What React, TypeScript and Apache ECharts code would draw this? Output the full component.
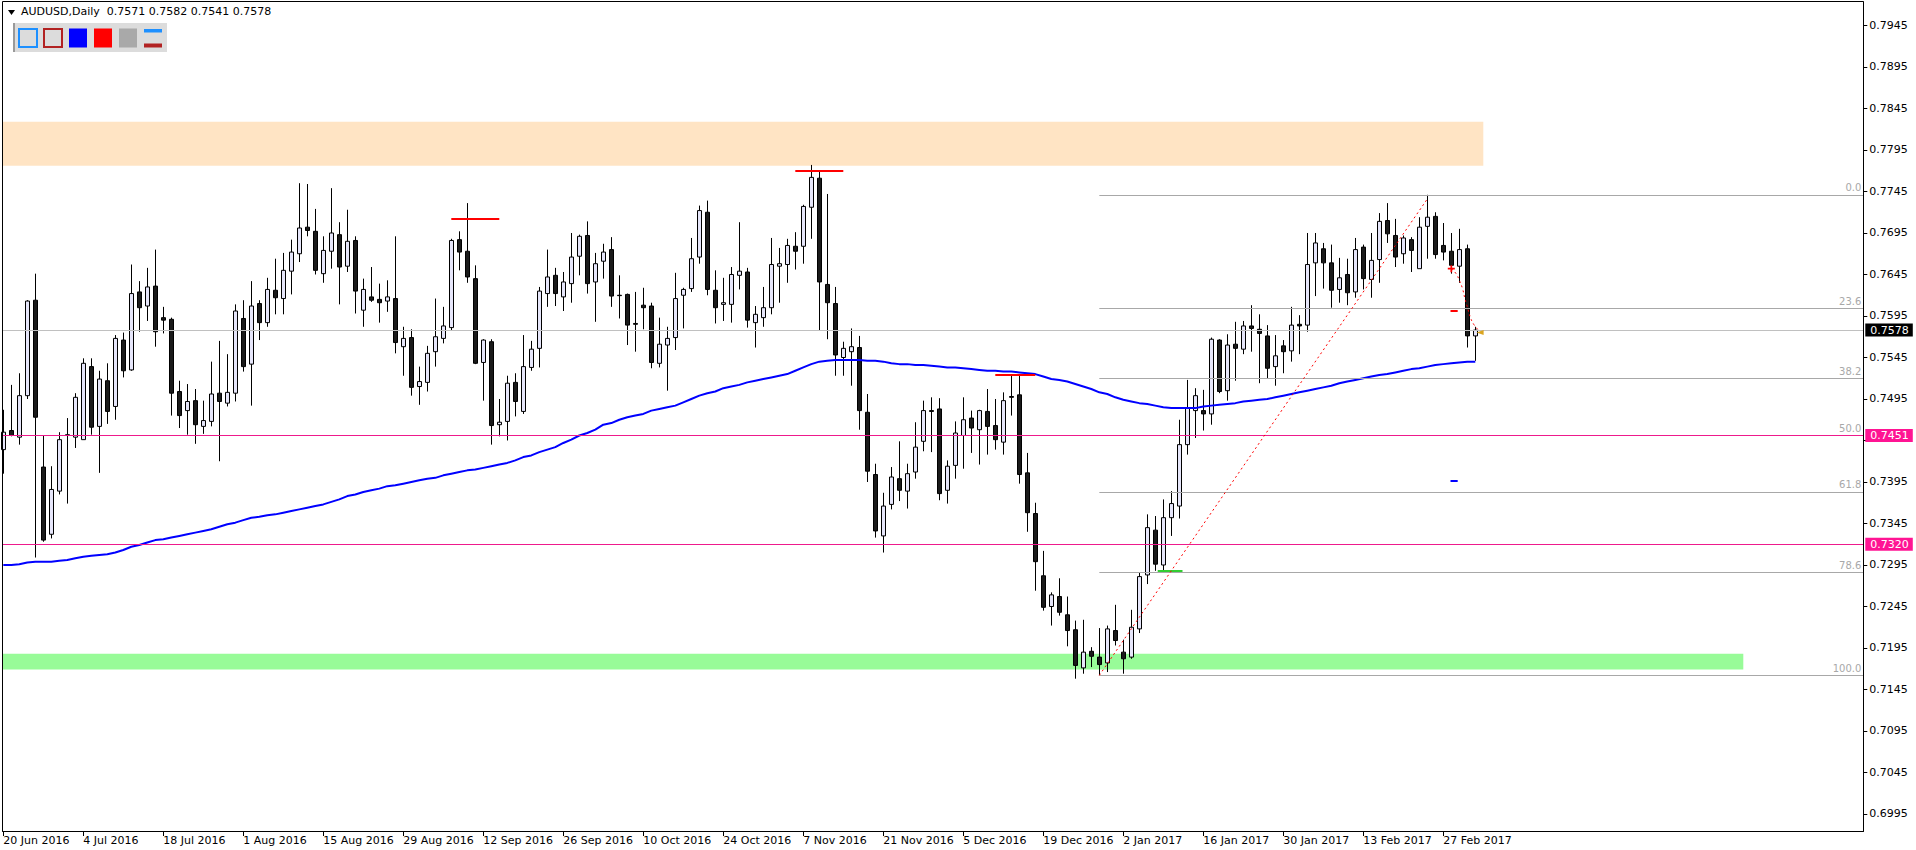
import React, { useEffect, useRef } from 'react';
import * as echarts from 'echarts';

// ---------- data ----------
const symbolName = 'AUDUSD';
const timeframe = 'Daily';

// [open, high, low, close] per daily bar, first bar = 20 Jun 2016
const candles: [number, number, number, number][] = [
  [0.7434, 0.7482, 0.7405, 0.7455], [0.7457, 0.7512, 0.7450, 0.7451], [0.7449, 0.7526, 0.7440, 0.7499],
  [0.7499, 0.7614, 0.7495, 0.7613], [0.7614, 0.7646, 0.7304, 0.7473], [0.7413, 0.7451, 0.7323, 0.7325],
  [0.7332, 0.7414, 0.7327, 0.7386], [0.7384, 0.7455, 0.7380, 0.7446], [0.7451, 0.7472, 0.7369, 0.7452],
  [0.7449, 0.7502, 0.7436, 0.7497], [0.7446, 0.7544, 0.7446, 0.7538], [0.7534, 0.7544, 0.7452, 0.7461],
  [0.7462, 0.7529, 0.7406, 0.7519], [0.7517, 0.7538, 0.7465, 0.7480], [0.7486, 0.7572, 0.7470, 0.7568],
  [0.7566, 0.7575, 0.7521, 0.7529], [0.7530, 0.7657, 0.7529, 0.7622], [0.7624, 0.7637, 0.7576, 0.7605],
  [0.7607, 0.7653, 0.7589, 0.7630], [0.7631, 0.7675, 0.7558, 0.7576], [0.7593, 0.7606, 0.7574, 0.7590],
  [0.7591, 0.7593, 0.7475, 0.7502], [0.7504, 0.7517, 0.7460, 0.7475], [0.7481, 0.7513, 0.7452, 0.7492],
  [0.7493, 0.7507, 0.7441, 0.7464], [0.7462, 0.7493, 0.7453, 0.7469], [0.7468, 0.7540, 0.7462, 0.7501],
  [0.7502, 0.7565, 0.7420, 0.7492], [0.7490, 0.7549, 0.7486, 0.7503], [0.7502, 0.7609, 0.7492, 0.7601],
  [0.7592, 0.7614, 0.7528, 0.7534], [0.7537, 0.7637, 0.7487, 0.7607], [0.7610, 0.7614, 0.7566, 0.7587],
  [0.7587, 0.7641, 0.7582, 0.7627], [0.7626, 0.7664, 0.7597, 0.7617], [0.7616, 0.7671, 0.7597, 0.7650],
  [0.7649, 0.7687, 0.7621, 0.7672], [0.7670, 0.7755, 0.7660, 0.7701], [0.7702, 0.7754, 0.7691, 0.7698],
  [0.7697, 0.7724, 0.7645, 0.7650], [0.7646, 0.7691, 0.7635, 0.7674], [0.7673, 0.7749, 0.7652, 0.7695],
  [0.7693, 0.7708, 0.7609, 0.7654], [0.7655, 0.7723, 0.7648, 0.7685], [0.7686, 0.7691, 0.7598, 0.7625],
  [0.7602, 0.7640, 0.7582, 0.7627], [0.7618, 0.7654, 0.7612, 0.7614], [0.7615, 0.7634, 0.7587, 0.7611],
  [0.7613, 0.7638, 0.7600, 0.7618], [0.7616, 0.7691, 0.7550, 0.7563], [0.7558, 0.7582, 0.7523, 0.7568],
  [0.7569, 0.7579, 0.7499, 0.7509], [0.7510, 0.7534, 0.7488, 0.7516], [0.7515, 0.7559, 0.7504, 0.7550],
  [0.7552, 0.7616, 0.7534, 0.7570], [0.7568, 0.7606, 0.7562, 0.7583], [0.7581, 0.7688, 0.7578, 0.7686],
  [0.7687, 0.7697, 0.7650, 0.7672], [0.7673, 0.7731, 0.7635, 0.7642], [0.7640, 0.7656, 0.7537, 0.7538],
  [0.7539, 0.7567, 0.7493, 0.7566], [0.7564, 0.7567, 0.7440, 0.7463], [0.7464, 0.7495, 0.7450, 0.7467],
  [0.7468, 0.7523, 0.7445, 0.7514], [0.7515, 0.7526, 0.7474, 0.7492], [0.7480, 0.7572, 0.7477, 0.7534],
  [0.7533, 0.7565, 0.7529, 0.7555], [0.7556, 0.7630, 0.7533, 0.7625], [0.7622, 0.7675, 0.7606, 0.7642],
  [0.7644, 0.7653, 0.7607, 0.7622], [0.7618, 0.7648, 0.7601, 0.7636], [0.7634, 0.7695, 0.7611, 0.7666],
  [0.7667, 0.7693, 0.7644, 0.7691], [0.7692, 0.7709, 0.7622, 0.7634], [0.7636, 0.7671, 0.7588, 0.7658],
  [0.7661, 0.7682, 0.7640, 0.7672], [0.7675, 0.7690, 0.7606, 0.7619], [0.7620, 0.7644, 0.7592, 0.76195],
  [0.7621, 0.7622, 0.7560, 0.7584], [0.7586, 0.7624, 0.7552, 0.7585], [0.7608, 0.7629, 0.7579, 0.7605],
  [0.7607, 0.7611, 0.7532, 0.7539], [0.7538, 0.7593, 0.7533, 0.7561], [0.7560, 0.7582, 0.7505, 0.7568],
  [0.7569, 0.7647, 0.7554, 0.7616], [0.7620, 0.7629, 0.7580, 0.7627], [0.7628, 0.7689, 0.7624, 0.7664],
  [0.7666, 0.7728, 0.7658, 0.7722], [0.7720, 0.7734, 0.7620, 0.7627], [0.7626, 0.7650, 0.7586, 0.7605],
  [0.7609, 0.7641, 0.7589, 0.7611], [0.7609, 0.7654, 0.7587, 0.7645], [0.7644, 0.7708, 0.7627, 0.7649],
  [0.7648, 0.7653, 0.7581, 0.7590], [0.7587, 0.7607, 0.7557, 0.7597], [0.7593, 0.7630, 0.7582, 0.7605],
  [0.7605, 0.7689, 0.7597, 0.7657], [0.7655, 0.7677, 0.7611, 0.7658], [0.7657, 0.7688, 0.7635, 0.7680],
  [0.7679, 0.7696, 0.7651, 0.7673], [0.7679, 0.7729, 0.7658, 0.7727], [0.7726, 0.7777, 0.7688, 0.7762],
  [0.7761, 0.7770, 0.7577, 0.7636], [0.7633, 0.7742, 0.7567, 0.7611], [0.7610, 0.7630, 0.7523, 0.7548],
  [0.7545, 0.7564, 0.7523, 0.7556], [0.7552, 0.7580, 0.7511, 0.7558], [0.7557, 0.7571, 0.7458, 0.7481],
  [0.7479, 0.7501, 0.7395, 0.7408], [0.7404, 0.7417, 0.7328, 0.7336], [0.7330, 0.7382, 0.7310, 0.7366],
  [0.7368, 0.7413, 0.7362, 0.7401], [0.7399, 0.7444, 0.7372, 0.7385], [0.7384, 0.7417, 0.7363, 0.7405],
  [0.7407, 0.7467, 0.7399, 0.7437], [0.7444, 0.7493, 0.7432, 0.7481], [0.7481, 0.7497, 0.7431, 0.7480],
  [0.7483, 0.7496, 0.7373, 0.7381], [0.7385, 0.7421, 0.7369, 0.7414], [0.7415, 0.7468, 0.7399, 0.7454],
  [0.7451, 0.7497, 0.7411, 0.7470], [0.7472, 0.7481, 0.7430, 0.7460], [0.7458, 0.7482, 0.7416, 0.7481],
  [0.7480, 0.7507, 0.7428, 0.7462], [0.7463, 0.7495, 0.7434, 0.7446], [0.7443, 0.7503, 0.7428, 0.7493],
  [0.7498, 0.7524, 0.7475, 0.7497], [0.7500, 0.7524, 0.7393, 0.7404], [0.7406, 0.7430, 0.7335, 0.7358],
  [0.7357, 0.7370, 0.7264, 0.7299], [0.7282, 0.7312, 0.7240, 0.7244], [0.7245, 0.7262, 0.7222, 0.7259],
  [0.7257, 0.7279, 0.7234, 0.7238], [0.7235, 0.7257, 0.7197, 0.7216], [0.7217, 0.7228, 0.7158, 0.7174],
  [0.7171, 0.7229, 0.7164, 0.7190], [0.7191, 0.7196, 0.7172, 0.7185], [0.7184, 0.7219, 0.7162, 0.7175],
  [0.7177, 0.7222, 0.7166, 0.7218], [0.7216, 0.7247, 0.7198, 0.7204], [0.7190, 0.7205, 0.7164, 0.7182],
  [0.7184, 0.7241, 0.7182, 0.7220], [0.7218, 0.7286, 0.7213, 0.7281], [0.7283, 0.7356, 0.7272, 0.7340],
  [0.7337, 0.7354, 0.7288, 0.7296], [0.7295, 0.7374, 0.7288, 0.7352], [0.7352, 0.7384, 0.7330, 0.7369],
  [0.7366, 0.7470, 0.7351, 0.7440], [0.7440, 0.7518, 0.7428, 0.7484], [0.7481, 0.7508, 0.7448, 0.7499],
  [0.7481, 0.7506, 0.7457, 0.7477], [0.7477, 0.7569, 0.7464, 0.7567], [0.7566, 0.7567, 0.7502, 0.7504],
  [0.7505, 0.7573, 0.7493, 0.7560], [0.7561, 0.7588, 0.7517, 0.7556], [0.7555, 0.7589, 0.7549, 0.7583],
  [0.7583, 0.7608, 0.7552, 0.7580], [0.7579, 0.7597, 0.7514, 0.7574], [0.7571, 0.7584, 0.7520, 0.7532],
  [0.7534, 0.7572, 0.7511, 0.7547], [0.7559, 0.7566, 0.7526, 0.7552], [0.7553, 0.7606, 0.7540, 0.7584],
  [0.7585, 0.7596, 0.7549, 0.7583], [0.7584, 0.7695, 0.7576, 0.7657], [0.7659, 0.7695, 0.7619, 0.7683],
  [0.7676, 0.7683, 0.7628, 0.7659], [0.7659, 0.7681, 0.7605, 0.7626], [0.7627, 0.7665, 0.7611, 0.7641],
  [0.7645, 0.7664, 0.7608, 0.7623], [0.7624, 0.7689, 0.7617, 0.7675], [0.7678, 0.7681, 0.7627, 0.7640],
  [0.7639, 0.7695, 0.7617, 0.7662], [0.7663, 0.7719, 0.7635, 0.7709], [0.7710, 0.7731, 0.7683, 0.7694],
  [0.7692, 0.7712, 0.7654, 0.7666], [0.7670, 0.7692, 0.7658, 0.7689], [0.7687, 0.7690, 0.7648, 0.7674],
  [0.7652, 0.7714, 0.7652, 0.7702], [0.7703, 0.7741, 0.7664, 0.7714], [0.7715, 0.7720, 0.7664, 0.7669],
  [0.7680, 0.7707, 0.7662, 0.7672], [0.7673, 0.7695, 0.7646, 0.7656], [0.7655, 0.7700, 0.7635, 0.7675],
  [0.7676, 0.7681, 0.7557, 0.7571], [0.7571, 0.7582, 0.7541, 0.7578],
];

// moving average (blue line), one value per bar
const movingAverage: number[] = [
  0.7295, 0.7295, 0.7296, 0.7298, 0.7299, 0.7299, 0.7299, 0.7300, 0.7301, 0.7303,
  0.7305, 0.7306, 0.7307, 0.7308, 0.7310, 0.7313, 0.7317, 0.7319, 0.7322, 0.7325,
  0.7326, 0.7328, 0.7330, 0.7332, 0.7334, 0.7336, 0.7338, 0.7341, 0.7344, 0.7346,
  0.7349, 0.7352, 0.7353, 0.7355, 0.7356, 0.7358, 0.7360, 0.7362, 0.7364, 0.7366,
  0.7368, 0.7371, 0.7374, 0.7378, 0.7380, 0.7383, 0.7385, 0.7387, 0.7390, 0.7391,
  0.7393, 0.7395, 0.7397, 0.7399, 0.7400, 0.7403, 0.7405, 0.7407, 0.7409, 0.7410,
  0.7412, 0.7414, 0.7416, 0.7418, 0.7421, 0.7425, 0.7427, 0.7431, 0.7434, 0.7437,
  0.7442, 0.7446, 0.7451, 0.7454, 0.7458, 0.7464, 0.7466, 0.7470, 0.7473, 0.7475,
  0.7477, 0.7481, 0.7483, 0.7485, 0.7487, 0.7491, 0.7495, 0.7499, 0.7502, 0.7504,
  0.7508, 0.7510, 0.7512, 0.7515, 0.7517, 0.7519, 0.7521, 0.7523, 0.7525, 0.7529,
  0.7533, 0.7537, 0.7540, 0.7541, 0.7542, 0.7542, 0.7542, 0.7542, 0.7541, 0.7541,
  0.7540, 0.7538, 0.7537, 0.7537, 0.7536, 0.7536, 0.7535, 0.7534, 0.7533, 0.7533,
  0.7532, 0.7531, 0.7530, 0.7529, 0.7529, 0.7528, 0.7528, 0.7527, 0.7526, 0.7525,
  0.7522, 0.7519, 0.7518, 0.7516, 0.7513, 0.7510, 0.7507, 0.7503, 0.7501, 0.7497,
  0.7494, 0.7492, 0.7490, 0.7489, 0.7487, 0.7485, 0.7484, 0.7484, 0.7484, 0.7484,
  0.7486, 0.7487, 0.7488, 0.7489, 0.7490, 0.7492, 0.7493, 0.7494, 0.7495, 0.7497,
  0.7499, 0.7501, 0.7503, 0.7505, 0.7507, 0.7509, 0.7511, 0.7514, 0.7516, 0.7518,
  0.7520, 0.7522, 0.7524, 0.7525, 0.7527, 0.7529, 0.7531, 0.7532, 0.7534, 0.7536,
  0.7537, 0.7538, 0.7539, 0.7540, 0.7540,
];

const dateTickBars = [0, 10, 20, 30, 40, 50, 60, 70, 80, 90, 100, 110, 120, 130, 140, 150, 160, 170, 180];
const dateTickLabels = [
  '20 Jun 2016', '4 Jul 2016', '18 Jul 2016', '1 Aug 2016', '15 Aug 2016', '29 Aug 2016', '12 Sep 2016',
  '26 Sep 2016', '10 Oct 2016', '24 Oct 2016', '7 Nov 2016', '21 Nov 2016', '5 Dec 2016', '19 Dec 2016',
  '2 Jan 2017', '16 Jan 2017', '30 Jan 2017', '13 Feb 2017', '27 Feb 2017',
];
// axis ticks every 0.0050 (0.7445 sits under the 0.7451 level tag, so it gets a tick but no label)
const priceTicks = [
  0.6995, 0.7045, 0.7095, 0.7145, 0.7195, 0.7245, 0.7295, 0.7345, 0.7395, 0.7445,
  0.7495, 0.7545, 0.7595, 0.7645, 0.7695, 0.7745, 0.7795, 0.7845, 0.7895, 0.7945,
];
const hiddenPriceLabels = [0.7445];

const keyLevels = [0.7451, 0.7320]; // pink horizontal lines
const fibHigh = 0.7741;
const fibLow = 0.7162;
const fibAnchorBar = 137;
const fibRatios = [0, 23.6, 38.2, 50, 61.8, 78.6, 100];
const supplyZone = [0.7776, 0.7829];
const supplyZoneEndBar = 185;
const demandZone = [0.7169, 0.7188];
const demandZoneEndBar = 217.5;
// [fromBar, toBar, price] short red marks at swing highs
const highMarks: [number, number, number][] = [[56, 62, 0.7712], [99, 105, 0.7770], [124, 129, 0.7524]];
const trendLine: [number, number][] = [[137, 0.7162], [178, 0.7736]];
const projectionCurve: [number, number][] = [
  [181.0, 0.7652], [181.6, 0.7646], [182.0, 0.7638], [182.4, 0.7628], [182.7, 0.7616],
  [183.0, 0.7606], [183.4, 0.7593], [183.8, 0.7585], [184.3, 0.7579],
];
const redDash: [number, number, number] = [180.9, 181.8, 0.7601];
const blueDash: [number, number, number] = [180.9, 181.8, 0.7396];
const greenDash: [number, number, number] = [144.3, 147.4, 0.7288];
const crossMarker: [number, number] = [181.0, 0.7652];
const closeArrow: [number, number] = [184.6, 0.7575];

// ---------- layout ----------
const X_MIN = -0.075;
const X_MAX = 232.5;
const Y_MIN = 0.69745;
const Y_MAX = 0.79733;
const FONT = 'DejaVu Sans';

function segment(from: number, to: number, price: number, color: string, width: number) {
  const ls = { color, width, type: 'solid' as const };
  return [
    { coord: [from, price], lineStyle: ls },
    { coord: [to, price], lineStyle: ls },
  ];
}

function priceLabel(bg: string, value: number) {
  return {
    show: true,
    position: 'end',
    distance: 2,
    formatter: () => value.toFixed(4),
    color: '#fff',
    backgroundColor: bg,
    fontFamily: FONT,
    fontSize: 11,
    padding: [1, 4, 1, 5],
  };
}

export default function App() {
  const ref = useRef<HTMLDivElement>(null);

  useEffect(() => {
    document.body.style.margin = '0';
    if (!ref.current) return;
    const chart = echarts.init(ref.current, undefined, { renderer: 'svg' });

    const last = candles[candles.length - 1];
    const bid = last[3];
    const titleText = `${symbolName},${timeframe}  ${last[0].toFixed(4)} ${last[1].toFixed(4)} ${last[2].toFixed(4)} ${last[3].toFixed(4)}`;
    const fibRange = fibHigh - fibLow;
    const labelTicks = priceTicks.filter((v) => !hiddenPriceLabels.includes(v));

    const fibLines = fibRatios.map((r) => {
      const lvl = fibHigh - (r / 100) * fibRange;
      const ls = { color: '#A8A8A8', width: 1, type: 'solid' as const };
      const lab = {
        show: true,
        position: 'insideEndTop',
        distance: 2,
        formatter: r.toFixed(1),
        color: '#A8A8A8',
        fontFamily: FONT,
        fontSize: 10,
      };
      return [
        { coord: [fibAnchorBar, lvl], lineStyle: ls, label: lab },
        { coord: [X_MAX, lvl], lineStyle: ls, label: lab },
      ];
    });

    const option: any = {
      animation: false,
      backgroundColor: '#ffffff',
      grid: { left: 2.7, right: 52.7, top: 2, bottom: 19, containLabel: false },
      xAxis: {
        type: 'value',
        min: X_MIN,
        max: X_MAX,
        splitLine: { show: false },
        axisLine: { show: true, onZero: false, lineStyle: { color: '#000', width: 1 } },
        axisTick: { show: true, customValues: dateTickBars, length: 5, lineStyle: { color: '#000' } },
        axisLabel: {
          show: true,
          customValues: dateTickBars,
          formatter: (v: number) => {
            const i = dateTickBars.indexOf(Math.round(v));
            return i >= 0 ? dateTickLabels[i] : '';
          },
          align: 'left',
          margin: 4,
          fontFamily: FONT,
          fontSize: 11,
          color: '#000',
        },
      },
      yAxis: {
        type: 'value',
        position: 'right',
        min: Y_MIN,
        max: Y_MAX,
        splitLine: { show: false },
        axisLine: { show: true, onZero: false, lineStyle: { color: '#000', width: 1 } },
        axisTick: { show: true, customValues: priceTicks, length: 4, lineStyle: { color: '#000' } },
        axisLabel: {
          customValues: labelTicks,
          formatter: (v: number) => v.toFixed(4),
          margin: 6,
          fontFamily: FONT,
          fontSize: 11,
          color: '#000',
        },
      },
      series: [
        {
          type: 'candlestick',
          name: symbolName,
          data: candles.map(([o, h, l, c], i) => [i, o, c, l, h]),
          dimensions: ['bar', 'open', 'close', 'lowest', 'highest'],
          encode: { x: 0, y: [1, 2, 3, 4] },
          barWidth: 4,
          clip: true,
          itemStyle: {
            color: '#E6E6FA',
            color0: '#1A1A1A',
            borderColor: '#000',
            borderColor0: '#000',
            borderColorDoji: '#000',
            borderWidth: 1,
          },
          markArea: {
            silent: true,
            data: [
              [
                { coord: [X_MIN, supplyZone[1]], itemStyle: { color: '#FFE4C4', opacity: 1 } },
                { coord: [supplyZoneEndBar, supplyZone[0]] },
              ],
              [
                { coord: [X_MIN, demandZone[1]], itemStyle: { color: '#98FB98', opacity: 1 } },
                { coord: [demandZoneEndBar, demandZone[0]] },
              ],
            ],
          },
          markLine: {
            silent: true,
            precision: 5,
            symbol: ['none', 'none'],
            label: { show: false },
            data: [
              ...fibLines,
              { yAxis: bid, lineStyle: { color: '#C0C0C0', width: 1, type: 'solid' }, label: priceLabel('#000000', bid) },
              ...keyLevels.map((v) => ({
                yAxis: v,
                lineStyle: { color: '#EE1A8C', width: 1, type: 'solid' },
                label: priceLabel('#FF1493', v),
              })),
              ...highMarks.map(([a, b, p]) => segment(a, b, p, '#FF0000', 2)),
              segment(redDash[0], redDash[1], redDash[2], '#FF0000', 2),
              segment(blueDash[0], blueDash[1], blueDash[2], '#0000FF', 2),
              segment(greenDash[0], greenDash[1], greenDash[2], '#32CD32', 2),
              [
                { coord: trendLine[0], lineStyle: { color: '#FF0000', width: 1, type: [2, 3] } },
                { coord: trendLine[1], lineStyle: { color: '#FF0000', width: 1, type: [2, 3] } },
              ],
            ],
          },
          markPoint: {
            silent: true,
            label: { show: false },
            data: [
              {
                coord: crossMarker,
                symbol: 'path://M0,3H8V5H0Z M3,0H5V8H3Z',
                symbolSize: 7,
                itemStyle: { color: '#FF0000' },
              },
              {
                coord: closeArrow,
                symbol: 'triangle',
                symbolRotate: 90,
                symbolSize: [5, 7],
                itemStyle: { color: '#DAA520' },
              },
            ],
          },
          z: 2,
        },
        {
          type: 'line',
          name: 'MA',
          data: movingAverage.map((v, i) => [i, v]),
          showSymbol: false,
          symbol: 'none',
          silent: true,
          lineStyle: { color: '#0000FF', width: 2 },
          z: 3,
        },
        {
          type: 'line',
          name: 'projection',
          data: projectionCurve,
          showSymbol: false,
          symbol: 'none',
          silent: true,
          smooth: true,
          lineStyle: { color: '#FF0000', width: 1, type: [2, 3] },
          z: 4,
        },
      ],
      graphic: [
        {
          type: 'rect',
          silent: true,
          z: 100,
          shape: { x: 2.5, y: 1.5, width: 1861, height: 830 },
          style: { fill: 'none', stroke: '#000', lineWidth: 1 },
        },
        {
          type: 'polygon',
          silent: true,
          z: 100,
          shape: { points: [[8, 10], [15, 10], [11.5, 15]] },
          style: { fill: '#000' },
        },
        {
          type: 'text',
          silent: true,
          z: 100,
          x: 21,
          y: 6,
          style: { text: titleText, fill: '#000', font: `11px "${FONT}"`, verticalAlign: 'top' },
        },
        { type: 'rect', silent: true, z: 100, shape: { x: 13, y: 23, width: 154, height: 29 }, style: { fill: '#DCDCDC' } },
        { type: 'rect', silent: true, z: 100, shape: { x: 13, y: 23, width: 2, height: 29 }, style: { fill: '#9A9A9A' } },
        {
          type: 'rect', silent: true, z: 101,
          shape: { x: 19, y: 29, width: 18, height: 18 },
          style: { fill: '#DCDCDC', stroke: '#1E90FF', lineWidth: 2 },
        },
        {
          type: 'rect', silent: true, z: 101,
          shape: { x: 44, y: 29, width: 18, height: 18 },
          style: { fill: '#DCDCDC', stroke: '#B22222', lineWidth: 2 },
        },
        { type: 'rect', silent: true, z: 101, shape: { x: 69, y: 28.5, width: 18, height: 19 }, style: { fill: '#0000FF' } },
        { type: 'rect', silent: true, z: 101, shape: { x: 94, y: 28.5, width: 18, height: 19 }, style: { fill: '#FF0000' } },
        { type: 'rect', silent: true, z: 101, shape: { x: 119, y: 28.5, width: 18, height: 19 }, style: { fill: '#A9A9A9' } },
        { type: 'rect', silent: true, z: 101, shape: { x: 144, y: 29, width: 18, height: 3.5 }, style: { fill: '#1E90FF' } },
        { type: 'rect', silent: true, z: 101, shape: { x: 144, y: 43.5, width: 18, height: 4 }, style: { fill: '#B22222' } },
      ],
    };

    chart.setOption(option);
    return () => {
      chart.dispose();
    };
  }, []);

  return <div ref={ref} style={{ width: 1916, height: 850 }} />;
}
